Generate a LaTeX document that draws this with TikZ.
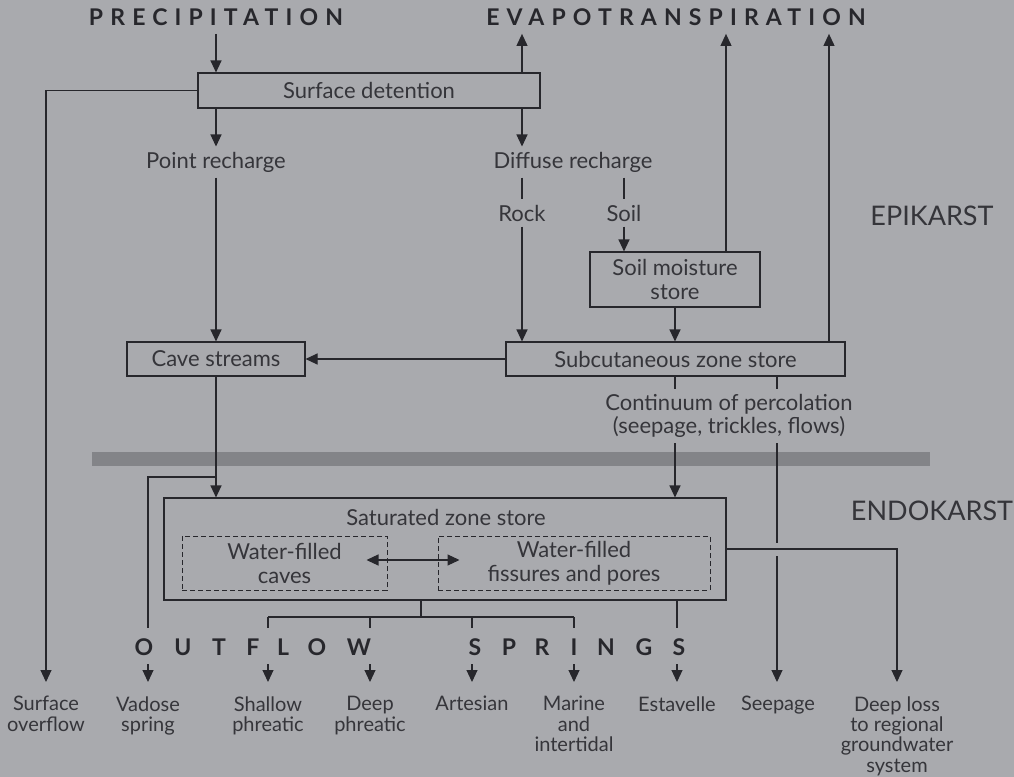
\documentclass[tikz,border=0pt]{standalone}
\usepackage{fontspec}
\setmainfont{Lato}
\usepackage{tikz}
\usetikzlibrary{calc,arrows.meta,positioning}
\definecolor{bgc}{HTML}{A9AAAE}
\definecolor{inkc}{HTML}{27272C}
\definecolor{txtc}{HTML}{35353A}
\definecolor{bandc}{HTML}{838488}
\tikzset{
  ln/.style={inkc,line width=0.55pt},
  ar/.style={-{Triangle[length=6pt,width=5.5pt]},ln},
  dar/.style={{Triangle[length=6pt,width=5.5pt]}-{Triangle[length=6pt,width=5.5pt]},ln},
  box/.style={draw=inkc,line width=0.55pt,align=center,inner sep=0pt,text=txtc,font=\fontsize{11}{12}\selectfont},
  dbox/.style={box,line width=0.5pt,dash pattern=on 2.5pt off 1.5pt},
  lbl/.style={text=txtc,align=center,inner sep=2.5pt,font=\fontsize{11}{11.5}\selectfont},
  olbl/.style={text=txtc,align=center,anchor=north,inner xsep=1pt,inner ysep=7pt,font=\fontsize{10}{10.2}\selectfont},
  hd/.style={text=inkc,inner sep=4pt,font=\fontsize{11.5}{13}\selectfont\bfseries\addfontfeature{LetterSpace=31}},
  spl/.style={text=inkc,inner sep=0pt,anchor=base,font=\fontsize{11.5}{13}\selectfont\bfseries},
  zone/.style={text=txtc,font=\fontsize{13.5}{15}\selectfont}
}
\begin{document}
\begin{tikzpicture}[x=0.5pt,y=-0.5pt]
\useasboundingbox (0,0) rectangle (1014,777);
\fill[bgc] (0,0) rectangle (1014,777);
\fill[bandc] (92,452) rectangle (930,466);
% headings and zones
\node[hd] (precip) at (216,17) {PRECIPITATION};
\node[hd] (evap) at (676,17) {EVAPOTRANSPIRATION};
\node[zone] (epi) at (932,216) {EPIKARST};
\node[zone] (endo) at (932,511) {ENDOKARST};
% stores
\node[box,minimum width=171pt,minimum height=17.5pt] (sd) at (369,90.5) {Surface detention};
\node[box,minimum width=89pt,minimum height=17pt] (cs) at (216,359) {Cave streams};
\node[box,minimum width=85pt,minimum height=27.5pt] (sm) at (675,279.5) {Soil moisture\\store};
\node[box,minimum width=169.5pt,minimum height=17pt] (sub) at (675.5,359) {Subcutaneous zone store};
\node[box,minimum width=281pt,minimum height=51pt] (sat) at (445,549) {};
\node[lbl] (sattx) at (446,517) {Saturated zone store};
\node[dbox,minimum width=102.5pt,minimum height=27pt] (wc) at (284.5,563) {Water-filled\\caves};
\node[dbox,minimum width=136pt,minimum height=27pt] (wf) at (574,563) {Water-filled\\fissures and pores};
% recharge labels
\node[lbl] (pr) at (216,162) {Point recharge};
\node[lbl] (dr) at (573,162) {Diffuse recharge};
\node[lbl] (rock) at (522,213) {Rock};
\node[lbl] (soil) at (624,213) {Soil};
\node[lbl] (cont) at (729,416) {Continuum of percolation\\(seepage, trickles, flows)};
% outflows
\node[olbl] (sov) at (46,682) {Surface\\overflow};
\node[olbl] (vad) at (148,682) {Vadose\\spring};
\node[olbl] (sha) at (268,682) {Shallow\\phreatic};
\node[olbl] (dee) at (370,682) {Deep\\phreatic};
\node[olbl] (art) at (472,682) {Artesian};
\node[olbl] (mar) at (574,682) {Marine\\and\\intertidal};
\node[olbl] (est) at (677,682) {Estavelle};
\node[olbl] (seep) at (778,682) {Seepage};
\node[olbl] (dls) at (897,682) {Deep loss\\to regional\\groundwater\\system};
\foreach \l/\x [count=\i] in {O/144,U/183,T/219,F/253,L/283,O/317,W/359,S/475,P/509,R/542,I/574,N/606,G/644,S/679}
  \node[spl] (ltr\i) at (\x,655) {\l};
% helper columns
\coordinate (ev2) at (726,0);
\coordinate (ev3) at (829,0);
\coordinate (pc1) at (675,0);
\coordinate (pc2) at (777,0);
\coordinate (vj) at (216,477);
\coordinate (sj) at (421,617);
% upper flows
\draw[ar] (precip.south) -- (sd.north -| precip.south);
\draw[ar] (sd.north -| rock) -- (evap.south -| rock);
\draw[ar] (sd.south -| pr) -- (pr.north);
\draw[ar] (sd.south -| rock) -- (dr.north -| rock);
\draw[ln] (dr.south -| rock) -- (rock.north);
\draw[ln] (dr.south -| soil) -- (soil.north);
\draw[ar] (rock.south) -- (sub.north -| rock);
\draw[ar] (soil.south) -- (sm.north -| soil);
\draw[ar] (sm.south) -- (sub.north -| sm.south);
\draw[ar] (sm.north -| ev2) -- (evap.south -| ev2);
\draw[ar] (sub.north -| ev3) -- (evap.south -| ev3);
\draw[ar] (pr.south) -- (cs.north);
\draw[ar] (sub.west) -- (cs.east);
\draw[ar] (sd.west) -| (sov.north);
% into the saturated zone
\draw[ar] (cs.south) -- (sat.north -| cs.south);
\draw[ln] (vj) -| ($(vad.north)+(0,-54)$);
\draw[ar] ($(vad.north)+(0,-18)$) -- (vad.north);
\draw[ln] (sub.south -| pc1) -- (cont.north -| pc1);
\draw[ln] (sub.south -| pc2) -- (cont.north -| pc2);
\draw[ar] (cont.south -| pc1) -- (sat.north -| pc1);
\draw[ln] (cont.south -| pc2) -- ($(sat.east -| pc2)+(0,-6)$);
\draw[ar] ($(sat.east -| pc2)+(0,7)$) -- (seep.north -| pc2);
\draw[ar] (sat.east) -| (dls.north);
\draw[dar] ($(wc.east)+(-21,-3)$) -- ($(wf.west)+(22,-3)$);
% springs
\draw[ln] (sat.south -| sj) -- (sj);
\draw[ln] ($(sha.north)+(0,-65)$) -- ($(mar.north)+(0,-65)$);
\foreach \n in {sha,dee,art,mar}
  \draw[ln] ($(\n.north)+(0,-65)$) -- ($(\n.north)+(0,-54)$);
\draw[ln] (sat.south -| est.north) -- ($(est.north)+(0,-54)$);
\foreach \n in {sha,dee,art,mar,est}
  \draw[ar] ($(\n.north)+(0,-18)$) -- (\n.north);
\end{tikzpicture}
\end{document}
